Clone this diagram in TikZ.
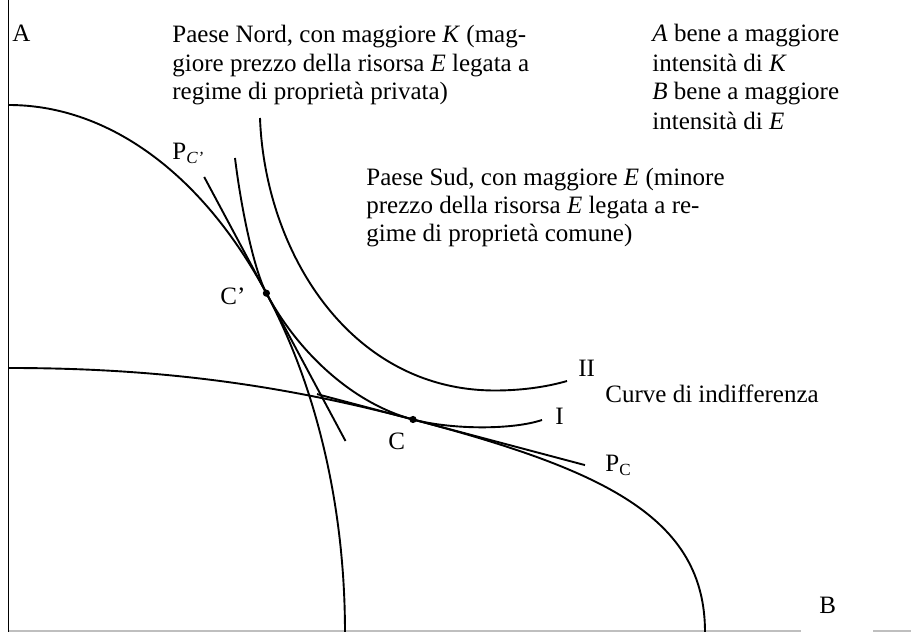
\documentclass[tikz,border=0pt]{standalone}
\usepackage{fontspec}
\setmainfont{Liberation Serif}
\begin{document}
\begin{tikzpicture}[x=0.5pt,y=0.5pt,
  curve/.style={line width=0.95pt, black},
  lbl/.style={anchor=base west, inner sep=0pt, font=\fontsize{12.5}{14.5}\selectfont},
  dotmark/.style={circle, fill=black, inner sep=0pt, minimum size=3.6pt}]
\useasboundingbox (0,0) rectangle (911,632);
% axes
\coordinate (O) at (8.5,0);
\coordinate (Atop) at (8.5,632);
\coordinate (Bax1) at (801,1);
\coordinate (Bax2) at (873,1);
\coordinate (Bax3) at (911,1);
\draw[gray!50, line width=0.8pt] (9,1) -- (Bax1);
\draw[gray!50, line width=0.8pt] (Bax2) -- (Bax3);
\draw[curve] (O) -- (Atop);
% North production frontier
\draw[curve] plot[domain=90:0, samples=120, variable=\t] ({9+336*cos(\t)},{527*sin(\t)});
% South production frontier
\draw[curve] (9,264) .. controls (149,264) and (273,249.6) .. (413,212.5)
  .. controls (603,162.2) and (705,115) .. (705,0);
% points
\node[dotmark] (Cp) at (266.4,338.8) {};
\node[dotmark] (C) at (413,212.5) {};
% price lines
\coordinate (PCp1) at (204.2,455);
\coordinate (PCp2) at (345.5,191);
\draw[curve] (PCp1) -- (Cp.center) -- (PCp2);
\coordinate (PC1) at (317,237.9);
\coordinate (PC2) at (585,166.9);
\draw[curve] (PC1) -- (C.center) -- (PC2);
% indifference curve I
\draw[curve] (235,474) .. controls (241.6,420) and (254.6,360.8) .. (Cp.center)
  .. controls (299.4,277.1) and (355,227.9) .. (C.center)
  .. controls (451.7,202.3) and (512,202) .. (542,212);
% indifference curve II
\draw[curve] (260,514) .. controls (265,380) and (350,241.5) .. (495,241.5)
  .. controls (525,241.5) and (550,246) .. (567,251);
% labels
\node[lbl] (lA) at (12,590) {A};
\node[lbl] (lB) at (819,18) {B};
\node[lbl] (nord1) at (172,589) {Paese Nord, con maggiore \textit{K} (mag-};
\node[lbl] (nord2) at (172,560) {giore prezzo della risorsa \textit{E} legata a};
\node[lbl] (nord3) at (172,532) {regime di proprietà privata)};
\node[lbl] (leg1) at (652,590) {\textit{A} bene a maggiore};
\node[lbl] (leg2) at (652,560) {intensità di \textit{K}};
\node[lbl] (leg3) at (652,532) {\textit{B} bene a maggiore};
\node[lbl] (leg4) at (652,502) {intensità di \textit{E}};
\node[lbl] (sud1) at (366,446) {Paese Sud, con maggiore \textit{E} (minore};
\node[lbl] (sud2) at (366,418) {prezzo della risorsa \textit{E} legata a re-};
\node[lbl] (sud3) at (366,390) {gime di proprietà comune)};
\node[lbl] (lII) at (578,255) {II};
\node[lbl] (lcurve) at (605,229) {Curve di indifferenza};
\node[lbl] (lI) at (555,207) {I};
\node[lbl] (lPC) at (605,160) {P\raisebox{-2pt}{\fontsize{8.5}{9}\selectfont C}};
\node[lbl] (lPCp) at (172,472) {P\raisebox{-2pt}{\fontsize{8.5}{9}\selectfont\textit{C’}}};
\node[lbl] (lC) at (388,182) {C};
\node[lbl] (lCp) at (220,327) {C’};
\end{tikzpicture}
\end{document}
